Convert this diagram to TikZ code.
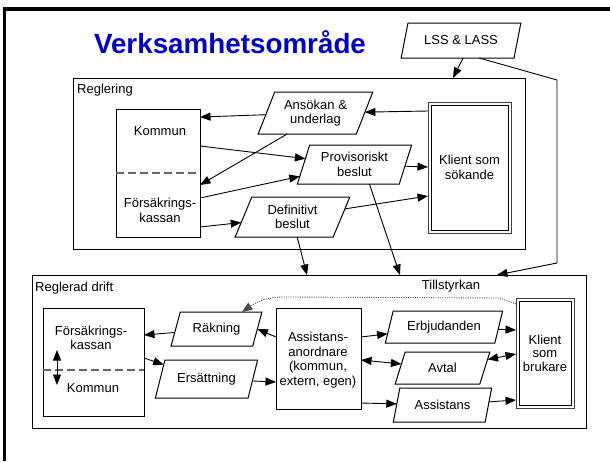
\documentclass[tikz,border=0pt]{standalone}
\usepackage{fontspec}
\setmainfont{Liberation Sans}
\usetikzlibrary{shapes.geometric,arrows.meta,calc}
\definecolor{titleblue}{RGB}{0,0,204}
\begin{document}
\begin{tikzpicture}[x=1pt,y=-1pt,
  font=\fontsize{13}{14.5}\selectfont,
  box/.style={draw,line width=1pt,inner sep=0pt,outer sep=0pt},
  kl/.style={draw=black!75,line width=1pt,inner sep=0pt,outer sep=0pt,align=center},
  inner/.style={draw,line width=1pt},
  para/.style n args={4}{draw,line width=1pt,trapezium,trapezium stretches=true,
     trapezium left angle=#3, trapezium right angle=#4,
     minimum width=#1, minimum height=#2, inner sep=0pt, outer sep=0pt, align=center},
  arr/.style={-{Triangle[length=10.5pt,width=8pt]},line width=0.9pt},
  darr/.style={{Triangle[length=10.5pt,width=8pt]}-{Triangle[length=10.5pt,width=8pt]},line width=0.9pt},
  dashline/.style={draw=black!60,line width=1.1pt,dash pattern=on 7.5pt off 4.5pt},
  lbl/.style={inner sep=0pt,anchor=base west},
  txt/.style={inner sep=0pt,align=center},
]
\useasboundingbox (0,0) rectangle (610,461);
% outer frame (cropped)
\draw[line width=3.5pt] (4.7,461) -- (4.7,8.8) -- (610,8.8);

\node[font=\fontsize{27.8}{30}\selectfont\bfseries, text=titleblue, anchor=base, inner sep=0pt] (title) at (230,53) {Verksamhetsområde};

% containers
\node[box, minimum width=452pt, minimum height=171pt] (regl) at (299,163.5) {};
\node[lbl] (rl) at (77,93) {Reglering};
\node[box, minimum width=554pt, minimum height=153pt] (drift) at (309,351.5) {};
\node[lbl] (dl) at (35,291) {Reglerad drift};
\node[anchor=base, inner sep=0pt] (till) at (451,289) {Tillstyrkan};

% LSS
\node[para={120pt}{35pt}{62.8}{117.2}] (lss) at (461,40.5) {LSS \& LASS};

% Reglering contents
\node[box, minimum width=84pt, minimum height=128pt] (kom) at (158,173) {};
\draw[dashline] (kom.west) -- (kom.east);
\node[txt] (komt) at (160,131) {Kommun};
\node[txt, font=\fontsize{13}{15}\selectfont] (fkt) at (160,210) {Försäkrings-\\kassan};

\node[para={115pt}{42pt}{64.5}{115.5}] (ans) at (315.5,113) {Ansökan \&\\underlag};
\node[para={115pt}{39pt}{69}{111}] (prov) at (354.5,164.5) {Provisoriskt\\beslut};
\node[para={115pt}{40pt}{67}{113}] (def) at (292.5,217) {Definitivt\\beslut};
\node[kl, minimum width=83pt, minimum height=131pt] (kls) at (469.5,167.5) {Klient som\\sökande};
\draw[inner] ($(kls.north west)+(3,3)$) rectangle ($(kls.south east)+(-3,-3)$);

% Reglerad drift contents
\node[box, minimum width=101pt, minimum height=108pt] (fk2) at (93.5,362) {};
\draw[dashline] ($(fk2.west)+(0,8)$) -- ($(fk2.east)+(0,8)$);
\node[txt, font=\fontsize{13}{14}\selectfont] (fk2t) at (91,338) {Försäkrings-\\kassan};
\node[txt] (kom2t) at (93,388) {Kommun};
\draw[darr] ($(fk2.west)+(14,-12)$) -- ($(fk2.west)+(14,23)$);

\node[para={91pt}{34pt}{63.4}{116.6}] (rak) at (216.5,329) {Räkning};
\node[para={103pt}{38pt}{61}{119}] (ers) at (206.5,379) {Ersättning};
\node[box, minimum width=85pt, minimum height=101pt] (ass) at (318.5,358.5) {};
\node[txt] (asst) at (318,360) {Assistans-\\anordnare\\(kommun,\\extern, egen)};
\node[para={118pt}{32pt}{65}{115}] (erb) at (444,327) {Erbjudanden};
\node[para={95pt}{32pt}{68}{112}] (avt) at (442.5,368) {Avtal};
\node[para={99pt}{34pt}{66}{114}] (assi) at (442.5,405) {Assistans};
\node[kl, minimum width=58pt, minimum height=110pt, font=\fontsize{13}{13.5}\selectfont] (klb) at (545,353) {Klient\\som\\brukare};
\draw[inner] ($(klb.north west)+(3,3)$) rectangle ($(klb.south east)+(-3,-3)$);

% connectors: top
\draw[arr] ($(lss.bottom left corner)+(62,0)$) -- (453,0 |- regl.north);
\draw[arr] ($(lss.bottom left corner)+(78,0)$) -- (557,80) -- (557,263) -- (497,0 |- drift.north);

% Reglering connectors
\draw[arr] (kls.west |- 0,111) -- (ans);
\draw[arr] (ans) -- (kom.east |- 0,117);
\draw[arr] ($(ans.bottom left corner)+(29,0)$) -- (kom.east |- 0,185);
\draw[arr] (kom.east |- 0,146) -- (prov);
\draw[arr] (kom.east |- 0,198) -- (prov);
\draw[arr] (kom.east |- 0,227) -- (def);
\draw[arr] (prov) -- (kls.west |- 0,167);
\draw[arr] (def) -- (kls.west |- 0,196);
\draw[arr] ($(def.bottom left corner)+(62,0)$) -- (307,0 |- drift.north);
\draw[arr] ($(prov.bottom left corner)+(72,0)$) -- (400,0 |- drift.north);

% Reglerad drift connectors
\draw[arr] (rak) -- (fk2.east |- 0,335);
\draw[arr] (ass.west |- 0,337) -- (rak.right side);
\draw[arr] (fk2.east |- 0,358) -- (ers);
\draw[arr] (ers) -- (ass.west |- 0,382);
\draw[arr] (ass.east |- 0,337) -- (erb);
\draw[arr] (erb) -- (klb.west |- 0,330);
\draw[darr] (ass.east |- 0,360) -- (avt);
\draw[darr] (avt) -- (klb.west |- 0,354);
\draw[arr] (ass.east |- 0,403) -- (assi);
\draw[arr] (assi) -- (klb.west |- 0,400);
\draw[arr, black!70, dash pattern=on 1pt off 1.3pt] ($(klb.north west)+(0,6)$) -- ($(klb.north west)+(-16,0)$) -- (285,297) to[out=180,in=35] ($(rak.top right corner)+(-20,0)$);
\end{tikzpicture}
\end{document}
